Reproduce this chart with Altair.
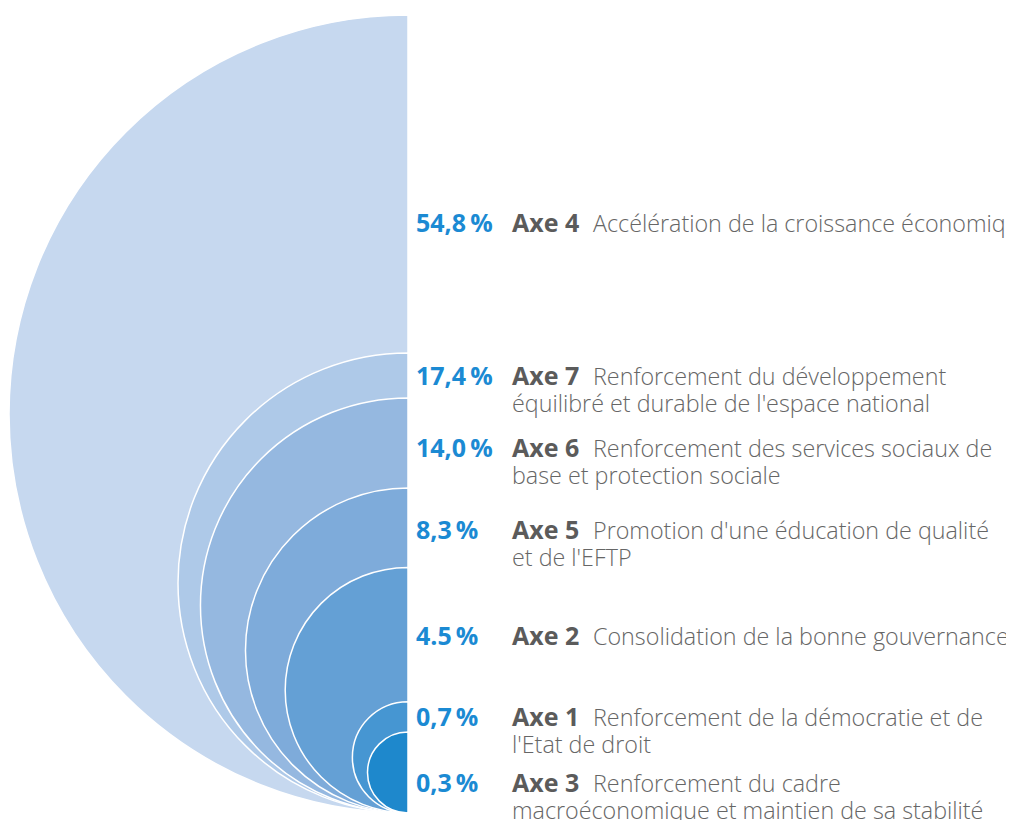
import altair as alt
import pandas as pd
import math

# ---- data ----
values = [54.8, 17.4, 14.0, 8.3, 4.5, 0.7, 0.3]
pct_labels = ["54,8\u2009%", "17,4\u2009%", "14,0\u2009%", "8,3\u2009%", "4.5\u2009%", "0,7\u2009%", "0,3\u2009%"]
axes = ["Axe 4", "Axe 7", "Axe 6", "Axe 5", "Axe 2", "Axe 1", "Axe 3"]
desc_line1 = [
    "Accélération de la croissance économique",
    "Renforcement du développement",
    "Renforcement des services sociaux de",
    "Promotion d'une éducation de qualité",
    "Consolidation de la bonne gouvernance",
    "Renforcement de la démocratie et de",
    "Renforcement du cadre",
]
desc_line2 = [
    "",
    "équilibré et durable de l'espace national",
    "base et protection sociale",
    "et de l'EFTP",
    "",
    "l'Etat de droit",
    "macroéconomique et maintien de sa stabilité",
]

# ---- layout / style ----
colors = ["#c6d8ef", "#aec9e8", "#95b8e0", "#7eabda", "#64a0d5", "#4696d2", "#1e88cc"]
label_baseline = [224, 377, 449, 531, 637, 718, 784]
W, H = 998, 812
center_x = 400
bottom = 805
r_min, r_max = 40.5, 399
FONT = "Open Sans"

df = pd.DataFrame({
    "value": values,
    "pct": pct_labels,
    "axe": axes,
    "d1": desc_line1,
    "d2": desc_line2,
    "ypos": label_baseline,
})

dom = [min(values), max(values)]

arcs = alt.Chart(df).mark_arc(
    theta=math.pi, theta2=2 * math.pi, stroke="white", strokeWidth=1.5
).encode(
    x=alt.value(center_x),
    y=alt.Y("value:Q", stack=False,
            scale=alt.Scale(type="sqrt", domain=dom,
                            range=[bottom - r_min, bottom - r_max], zero=False), axis=None),
    radius=alt.Radius("value:Q", stack=False,
                      scale=alt.Scale(type="sqrt", domain=dom,
                                      range=[r_min, r_max], zero=False)),
    radius2=alt.value(0),
    color=alt.Color("axe:N", scale=alt.Scale(domain=axes, range=colors), legend=None),
)

ysc = alt.Scale(domain=[0, H], range=[0, H])
ybase = alt.Y("ypos:Q", scale=ysc, axis=None)

pct = alt.Chart(df).mark_text(
    align="left", baseline="alphabetic", font=FONT, fontSize=25, fontWeight="bold", color="#1b8ad3"
).encode(x=alt.value(408), y=ybase, text="pct:N")

axe_t = alt.Chart(df).mark_text(
    align="left", baseline="alphabetic", font=FONT, fontSize=25, fontWeight="bold", color="#5b5b5b"
).encode(x=alt.value(504), y=ybase, text="axe:N")

d1 = alt.Chart(df).mark_text(
    align="left", baseline="alphabetic", font=FONT, fontSize=23.3, fontWeight=300, color="#666666"
).encode(x=alt.value(585), y=ybase, text="d1:N")

d2 = alt.Chart(df).mark_text(
    align="left", baseline="alphabetic", font=FONT, fontSize=23.3, fontWeight=300, color="#666666", dy=26.5
).encode(x=alt.value(504), y=ybase, text="d2:N")

chart = alt.layer(arcs, pct, axe_t, d1, d2).resolve_scale(y="independent").properties(
    width=W, height=H, padding=0, autosize=alt.AutoSizeParams(type="none")
).configure_view(stroke=None)

chart.save("out.html", embed_options={"renderer": "svg", "actions": False})
